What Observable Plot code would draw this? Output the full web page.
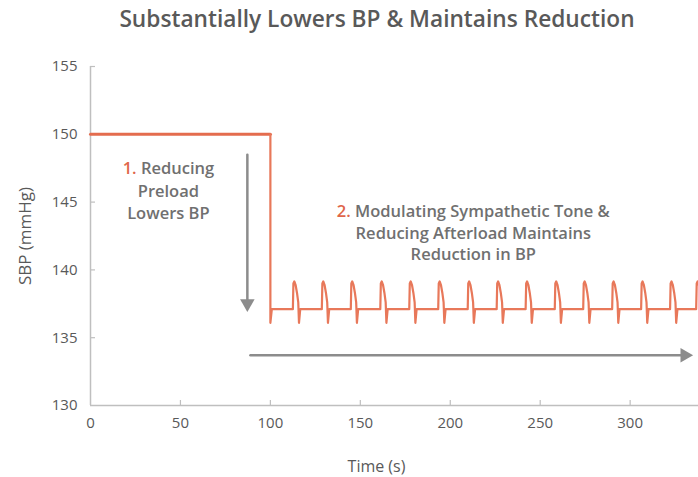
<!DOCTYPE html>
<html><head><meta charset="utf-8">
<script src="https://cdn.jsdelivr.net/npm/d3@7"></script>
<script src="https://cdn.jsdelivr.net/npm/@observablehq/plot@0.6"></script>
<style>
body{margin:0;background:#fff;}
#title{height:38px;line-height:38px;box-sizing:border-box;padding-left:56px;text-align:center;font-family:"Open Sans",sans-serif;font-weight:600;font-size:22.7px;color:#595959;white-space:nowrap;}
</style></head><body>
<div id="title">Substantially Lowers BP &amp; Maintains Reduction</div>
<div id="chart"></div>
<script>
// ---- data ----
const xTicks = [0, 50, 100, 150, 200, 250, 300];
const yTicks = [130, 135, 140, 145, 150, 155];
const xLabel = "Time (s)";
const yLabel = "SBP (mmHg)";

// phase 1: SBP held at 150 until the drop at t = 100 s
const preloadPhase = [
  {t: 0, sbp: 150},
  {t: 100, sbp: 150}
];
// drop at t = 100 s
const dropPhase = [
  {t: 100, sbp: 150},
  {t: 100, sbp: 136.1},
  {t: 100.8, sbp: 137.1}
];
// pulse onset times (s)
const beatTimes = [112.5, 128.6, 144.7, 161.1, 177.2, 193.3, 209.7, 225.8, 241.9, 258.1, 273.9, 290.0, 306.1, 322.2, 336.7];
// shape of one pulse: time after onset (s) and SBP level (mmHg)
const beatOffsets = [0, 0.3, 0.8, 1.5, 2.3, 3.0, 3.4, 4.1];
const beatLevels  = [137.1, 139.0, 139.15, 138.9, 138.3, 137.6, 136.1, 137.1];

// annotations
const note1 = {t: 43.3, sbp: 145.95, text: "1. Reducing\nPreload\nLowers BP"};
const note2 = {t: 212.8, sbp: 142.8, text: "2. Modulating Sympathetic Tone &\nReducing Afterload Maintains\nReduction in BP"};
// arrows (start -> tip)
const arrowDown  = {x1: 87.2, y1: 148.5, x2: 87.2, y2: 136.9};
const arrowRight = {x1: 88.9, y1: 133.7, x2: 335, y2: 133.7};

// ---- build ----
const trace = [...dropPhase];
for (const t0 of beatTimes) beatOffsets.forEach((dt, i) => trace.push({t: t0 + dt, sbp: beatLevels[i]}));

const orange = "#E46C4E";
const gray = "#8C8C8C";
const axisGray = "#BFBFBF";

const chart = Plot.plot({
  width: 698,
  height: 439,
  marginLeft: 90,
  marginRight: 0,
  marginTop: 28,
  marginBottom: 72,
  style: {fontFamily: "'Open Sans', sans-serif", fontSize: "15px", color: "#595959", background: "#fff"},
  x: {domain: [0, 338]},
  y: {domain: [130, 155]},
  marks: [
    Plot.ruleY([130], {stroke: axisGray, strokeWidth: 1.5}),
    Plot.ruleX([0], {y1: 130, y2: 155, stroke: axisGray, strokeWidth: 1.5}),
    Plot.ruleX(xTicks.filter(d => d > 0), {y1: 130, y2: 130, insetTop: -5, stroke: axisGray, strokeWidth: 1.2}),
    Plot.ruleY(yTicks.filter(d => d > 130), {x1: 0, x2: 0, insetRight: -5, stroke: axisGray, strokeWidth: 1.2}),
    Plot.axisX(xTicks, {tickSize: 0, tickPadding: 12, label: null, fontSize: 15}),
    Plot.axisY(yTicks, {tickSize: 0, tickPadding: 13, label: null, fontSize: 15}),
    Plot.text([xLabel], {frameAnchor: "bottom", lineAnchor: "middle", dx: -18, dy: 61, fontSize: 16}),
    Plot.text([yLabel], {frameAnchor: "left", textAnchor: "middle", rotate: -90, dx: -65, fontSize: 17}),
    Plot.line(preloadPhase, {x: "t", y: "sbp", stroke: orange, strokeWidth: 3}),
    Plot.line(trace, {x: "t", y: "sbp", stroke: "#E8785A", strokeWidth: 2.2, strokeLinejoin: "round", curve: "linear", clip: true}),
    Plot.arrow([arrowDown], {x1: "x1", y1: "y1", x2: "x2", y2: "y2", stroke: gray, strokeWidth: 2.5, headLength: 0, insetEnd: 8}),
    Plot.dot([arrowDown], {x: "x2", y: "y2", symbol: "triangle", r: 5.4, rotate: 180, dy: -8.4, fill: gray, stroke: null}),
    Plot.arrow([arrowRight], {x1: "x1", y1: "y1", x2: "x2", y2: "y2", stroke: gray, strokeWidth: 2.5, headLength: 0, insetEnd: 8}),
    Plot.dot([arrowRight], {x: "x2", y: "y2", symbol: "triangle", r: 5.4, rotate: 90, dx: -8.4, fill: gray, stroke: null}),
    Plot.text([note1], {x: "t", y: "sbp", text: "text", fill: "#707070", fontWeight: 600, fontSize: 16.5, lineHeight: 1.39}),
    Plot.text([note2], {x: "t", y: "sbp", text: "text", fill: "#707070", fontWeight: 600, fontSize: 16.5, lineHeight: 1.3})
  ]
});

// colour the step numbers ("1.", "2.") orange while keeping the text as real text
const ns = "http://www.w3.org/2000/svg";
chart.querySelectorAll("text, tspan").forEach(el => {
  if (el.childElementCount === 0) {
    const m = el.textContent.match(/^(\d\.)(\s.+)$/);
    if (m) {
      el.textContent = "";
      const num = document.createElementNS(ns, "tspan");
      num.setAttribute("fill", "#E0664A");
      num.textContent = m[1];
      el.append(num, m[2]);
    }
  }
});
document.getElementById("chart").append(chart);
</script>
</body></html>
